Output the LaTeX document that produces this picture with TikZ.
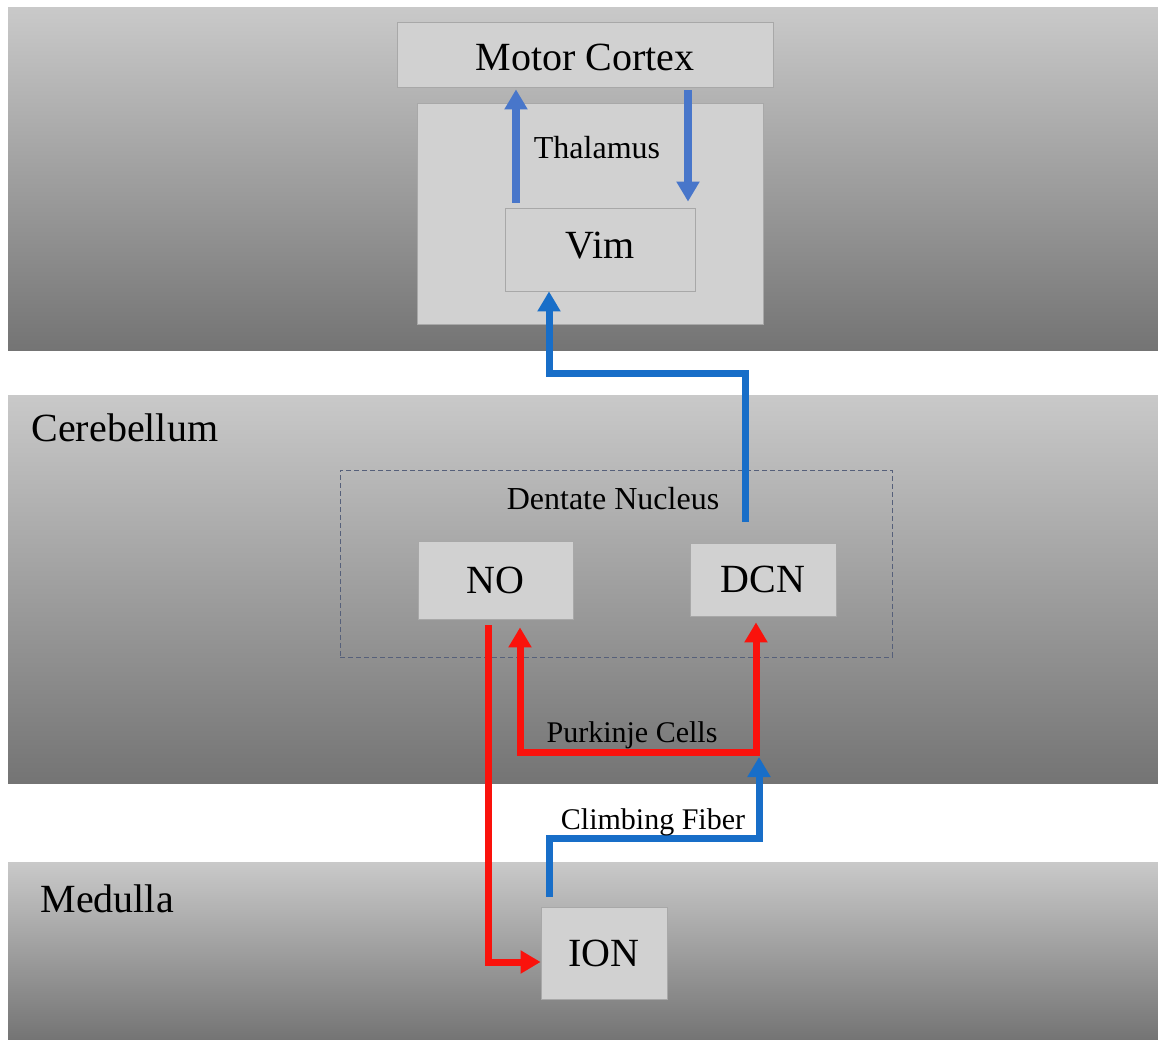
\documentclass[tikz,border=0pt]{standalone}
\usepackage{fontspec}
\setmainfont{Liberation Serif}
\usetikzlibrary{arrows.meta}

\definecolor{bandtop}{RGB}{201,201,201}
\definecolor{bandbot}{RGB}{116,116,116}
\definecolor{boxfill}{RGB}{209,209,209}
\definecolor{boxline}{RGB}{168,168,168}
\definecolor{dashline}{RGB}{86,96,122}
\definecolor{softblue}{RGB}{72,118,202}
\definecolor{deepblue}{RGB}{24,110,200}
\definecolor{pathred}{RGB}{250,18,12}

\tikzset{
  tipshape/.tip={Triangle[width=22pt,length=20pt]},
  band/.style={top color=bandtop, bottom color=bandbot, draw=none},
  region/.style={rectangle, fill=boxfill, draw=boxline, line width=0.8pt, inner sep=0pt},
  lowtext/.style={text height=33pt, text depth=0pt},
  hightext/.style={text height=27pt, text depth=8pt},
  bigtext/.style={font=\fontsize{40}{46}\selectfont},
  midtext/.style={font=\fontsize{32}{38}\selectfont},
  smalltext/.style={font=\fontsize{30}{36}\selectfont},
  tip/.style={-tipshape},
  thalarrow/.style={draw=softblue, line width=8pt, tip},
  fiber/.style={draw=deepblue, line width=7pt, tip},
  redfiber/.style={draw=pathred, line width=7pt},
}

\begin{document}
\begin{tikzpicture}[x=1pt, y=-1pt]
\useasboundingbox[fill=white] (0,0) rectangle (1158,1040);

% horizontal brain-level bands
\shade[band] (8,8) rectangle (1158,350);
\shade[band] (8,395) rectangle (1158,783);
\shade[band] (8,862) rectangle (1158,1040);

\node[bigtext, anchor=west] (cereb) at (28,428) {Cerebellum};
\node[bigtext, anchor=west] (medul) at (37,899) {Medulla};

% cortex and thalamus
\node[region, minimum width=376pt, minimum height=65pt, bigtext, lowtext] (MC) at (585,54.5) {Motor Cortex};
\node[region, minimum width=346pt, minimum height=221pt] (Thal) at (590,213.5) {};
\node[midtext] (thallabel) at (597,148) {Thalamus};
\node[region, minimum width=190pt, minimum height=83pt, bigtext, hightext] (Vim) at (600,249.5) {Vim};

% dentate nucleus group
\node[rectangle, draw=dashline, line width=1pt, dash pattern=on 5pt off 3pt,
      minimum width=552pt, minimum height=187pt, inner sep=0pt] (DN) at (616,563.5) {};
\node[midtext] (dnlabel) at (613,499) {Dentate Nucleus};
\node[region, minimum width=155pt, minimum height=78pt, bigtext] (NO) at (495.5,580) {NO};
\node[region, minimum width=146pt, minimum height=73pt, bigtext] (DCN) at (763,579.5) {DCN};

% inferior olive
\node[region, minimum width=126pt, minimum height=92pt, bigtext] (ION) at (604,953) {ION};

% routing points
\coordinate (upx) at (516,0);
\coordinate (downx) at (688,0);
\coordinate (dcnout) at (745,522);
\coordinate (vimin) at (549,373);
\coordinate (noout) at (488,0);
\coordinate (pk1) at (520,752);
\coordinate (pk2) at (756,752);
\coordinate (cf1) at (549,838);
\coordinate (cf2) at (759,757);

% thalamo-cortical loop
\draw[thalarrow, shorten <=5pt, shorten >=2pt] (Vim.north -| upx) -- (MC.south -| upx);
\draw[thalarrow, shorten <=3pt, shorten >=6pt] (MC.south -| downx) -- (Vim.north -| downx);

% dentate output to Vim
\draw[fiber] (dcnout) |- (vimin) -- (Vim.south -| vimin);

% nucleo-olivary projection
\draw[redfiber, tip, shorten <=6pt] (NO.south -| noout) |- ([yshift=-9pt]ION.west);

% Purkinje cell projections
\draw[redfiber, tipshape-tipshape, shorten <=8pt, shorten >=6pt]
  (NO.south -| pk1) -- (pk1) -- (pk2) -- (DCN.south -| pk2);
\node[smalltext] (pklabel) at (632,735) {Purkinje Cells};

% climbing fiber
\draw[fiber, shorten <=10pt] (ION.north -| cf1) -- (cf1) -| (cf2);
\node[smalltext] (cflabel) at (653,822) {Climbing Fiber};
\end{tikzpicture}
\end{document}
